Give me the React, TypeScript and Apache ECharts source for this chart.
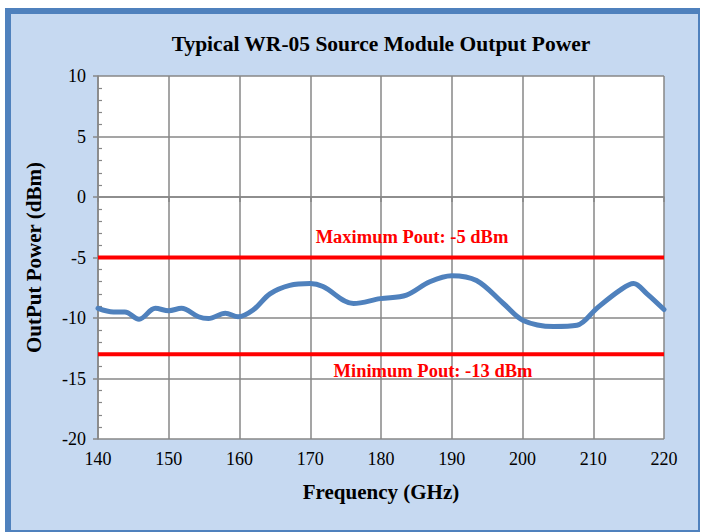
import React, { useEffect, useRef } from "react";
import * as echarts from "echarts";

const frequencyGHz = [140, 142.2, 143.8, 145.8, 148.1, 150, 151.8, 154.2, 155.6, 158, 159.8, 162, 164.3, 167.1, 170, 171.8, 176.1, 179.9, 183.6, 186.9, 190, 193.5, 197.3, 200.1, 204.4, 207.7, 210.5, 213.8, 215.7, 217.6, 220];
const powerDbm = [-9.2, -9.5, -9.5, -10.1, -9.2, -9.4, -9.2, -9.9, -10.05, -9.6, -9.9, -9.3, -8.0, -7.3, -7.15, -7.4, -8.8, -8.4, -8.1, -7.0, -6.5, -6.9, -8.8, -10.2, -10.7, -10.6, -9.2, -7.7, -7.15, -8.0, -9.3];
const maxPout = -5;
const minPout = -13;
const xRange = [140, 220];
const yRange = [-20, 10];

const FONT = "Liberation Serif, Times New Roman, serif";

export default function App() {
  const ref = useRef<HTMLDivElement>(null);
  useEffect(() => {
    if (!ref.current) return;
    const chart = echarts.init(ref.current, null, { renderer: "svg" });
    const gridColor = "#878787";
    chart.setOption({
      animation: false,
      backgroundColor: "transparent",
      grid: { left: 98, top: 76, width: 566, height: 363, show: true, backgroundColor: "#ffffff", borderWidth: 0 },
      xAxis: {
        type: "value",
        min: xRange[0],
        max: xRange[1],
        interval: 10,
        name: "Frequency (GHz)",
        nameLocation: "middle",
        nameGap: 42,
        nameTextStyle: { fontFamily: FONT, fontSize: 21, fontWeight: "bold", color: "#000" },
        axisLine: { lineStyle: { color: gridColor, width: 1.5 } },
        axisTick: { show: true, length: 5, lineStyle: { color: gridColor, width: 1.5 } },
        axisLabel: { fontFamily: FONT, fontSize: 18, color: "#000", margin: 11 },
        splitLine: { show: true, lineStyle: { color: gridColor, width: 1.5 } },
      },
      yAxis: {
        type: "value",
        min: yRange[0],
        max: yRange[1],
        interval: 5,
        name: "OutPut Power (dBm)",
        nameLocation: "middle",
        nameRotate: 90,
        nameGap: 54,
        nameTextStyle: { fontFamily: FONT, fontSize: 21, fontWeight: "bold", color: "#000" },
        axisLine: { show: true, lineStyle: { color: gridColor, width: 1.5 } },
        axisTick: { show: true, length: 5, lineStyle: { color: gridColor, width: 1.5 } },
        minorTick: { show: true, splitNumber: 5, length: -4, lineStyle: { color: gridColor, width: 1.2 } },
        axisLabel: { fontFamily: FONT, fontSize: 18, color: "#000", margin: 12 },
        splitLine: { show: true, lineStyle: { color: gridColor, width: 1.5 } },
      },
      series: [
        {
          type: "line",
          data: [[xRange[0], maxPout], [xRange[1], maxPout]],
          symbol: "none",
          lineStyle: { color: "#ff0000", width: 4 },
          z: 3,
        },
        {
          type: "line",
          data: [[xRange[0], minPout], [xRange[1], minPout]],
          symbol: "none",
          lineStyle: { color: "#ff0000", width: 4 },
          z: 3,
        },
        {
          type: "line",
          data: frequencyGHz.map((f, i) => [f, powerDbm[i]]),
          symbol: "none",
          smooth: 0.35,
          lineStyle: { color: "#4f81bd", width: 5, cap: "round", join: "round" },
          z: 4,
        },
      ],
      graphic: [
        {
          type: "text",
          x: 381,
          y: 44,
          style: {
            text: "Typical WR-05 Source Module Output Power",
            fontFamily: FONT,
            fontSize: 21.5,
            fontWeight: "bold",
            fill: "#000",
            textAlign: "center",
            textVerticalAlign: "middle",
          },
        },
        {
          type: "text",
          x: 412,
          y: 237,
          z: 10,
          style: {
            text: `Maximum Pout: ${maxPout} dBm`,
            fontFamily: FONT,
            fontSize: 18.5,
            fontWeight: "bold",
            fill: "#ff0000",
            textAlign: "center",
            textVerticalAlign: "middle",
          },
        },
        {
          type: "text",
          x: 433,
          y: 371,
          z: 10,
          style: {
            text: `Minimum Pout: ${minPout} dBm`,
            fontFamily: FONT,
            fontSize: 18.5,
            fontWeight: "bold",
            fill: "#ff0000",
            textAlign: "center",
            textVerticalAlign: "middle",
          },
        },
      ],
    });
    return () => chart.dispose();
  }, []);

  return (
    <div style={{ position: "fixed", left: 0, top: 0, width: 701, height: 532, background: "#ffffff", overflow: "hidden" }}>
      <div
        style={{
          position: "absolute",
          left: 5,
          top: 8,
          width: 687,
          height: 516,
          background: "#c6d9f1",
          borderLeft: "6px solid #4f81bd",
          borderTop: "6px solid #4f81bd",
          borderRight: "2px solid #4f81bd",
          borderBottom: "2px solid #4f81bd",
        }}
      />
      <div ref={ref} style={{ position: "absolute", left: 0, top: 0, width: 701, height: 532 }} />
    </div>
  );
}
